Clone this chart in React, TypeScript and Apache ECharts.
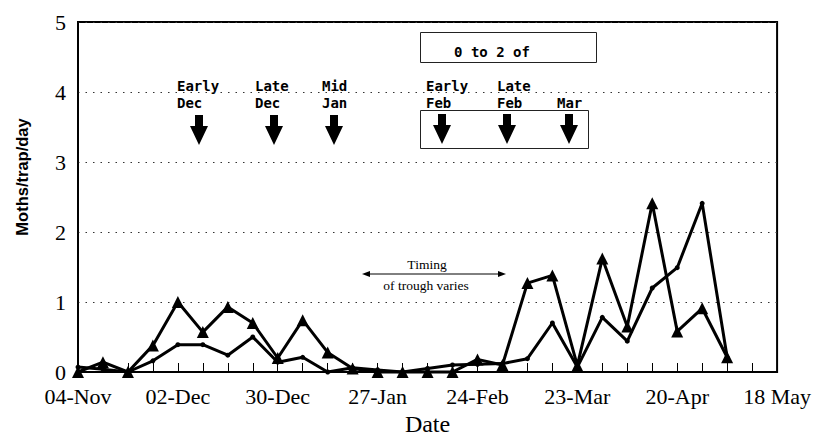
import React, { useEffect, useRef } from "react";
import * as echarts from "echarts";

// Day offsets from 04-Nov for each weekly trap reading
const sampleDays = [0, 7, 14, 21, 28, 35, 42, 49, 56, 63, 70, 77, 84, 91, 98, 105, 112, 119, 126, 133, 140, 147, 154, 161, 168, 175, 182];
// Series with triangle markers
const seriesTriangle = [0.0, 0.14, 0.0, 0.38, 1.0, 0.57, 0.93, 0.7, 0.2, 0.74, 0.28, 0.05, 0.0, 0.0, 0.0, 0.0, 0.18, 0.1, 1.27, 1.38, 0.09, 1.62, 0.65, 2.41, 0.58, 0.91, 0.21];
// Series with small circle markers
const seriesCircle = [0.07, 0.04, 0.0, 0.16, 0.39, 0.39, 0.24, 0.5, 0.14, 0.21, 0.0, 0.06, 0.03, 0.0, 0.05, 0.1, 0.11, 0.12, 0.19, 0.7, 0.07, 0.78, 0.44, 1.2, 1.49, 2.41, 0.21];
// X tick labels every 28 days
const xTickLabels = ["04-Nov", "02-Dec", "30-Dec", "27-Jan", "24-Feb", "23-Mar", "20-Apr", "18 May"];
const yTicks = [0, 1, 2, 3, 4, 5];

const MONO = "bold 14px 'DejaVu Sans Mono', monospace";
const SERIF = "'Liberation Serif', 'Times New Roman', serif";

function downArrow(cx: number, top: number) {
  return {
    type: "polygon",
    shape: {
      points: [
        [cx - 4, top],
        [cx + 4, top],
        [cx + 4, top + 11],
        [cx + 9, top + 11],
        [cx, top + 30],
        [cx - 9, top + 11],
        [cx - 4, top + 11],
      ],
    },
    style: { fill: "#000" },
  };
}

function monoText(x: number, y: number, text: string) {
  return {
    type: "text",
    x,
    y,
    style: { text, font: MONO, fill: "#000", align: "left", verticalAlign: "middle" },
  };
}

export default function App() {
  const ref = useRef<HTMLDivElement>(null);
  useEffect(() => {
    if (!ref.current) return;
    const chart = echarts.init(ref.current, null, { renderer: "svg" });
    const triData = sampleDays.map((d, i) => [d, seriesTriangle[i]]);
    const cirData = sampleDays.map((d, i) => [d, seriesCircle[i]]);
    chart.setOption({
      animation: false,
      backgroundColor: "#fff",
      grid: {
        left: 78,
        right: 32,
        top: 22,
        bottom: 63,
        show: true,
        borderColor: "#000",
        borderWidth: 2,
        backgroundColor: "transparent",
      },
      xAxis: {
        type: "value",
        min: 0,
        max: 196,
        interval: 28,
        name: "Date",
        nameLocation: "middle",
        nameGap: 40,
        nameTextStyle: { fontFamily: SERIF, fontSize: 24, color: "#000" },
        axisLine: { show: true, lineStyle: { color: "#000", width: 2 } },
        axisTick: { show: true, inside: true, length: 9, lineStyle: { color: "#000", width: 1 } },
        minorTick: { show: true, splitNumber: 4, length: 9, lineStyle: { color: "#000", width: 1 } },
        splitLine: { show: false },
        axisLabel: {
          fontFamily: SERIF,
          fontSize: 22,
          color: "#000",
          margin: 13,
          formatter: (v: number) => xTickLabels[Math.round(v / 28)] ?? "",
        },
      },
      yAxis: {
        type: "value",
        min: yTicks[0],
        max: yTicks[yTicks.length - 1],
        interval: 1,
        axisLine: { show: true, lineStyle: { color: "#000", width: 1.5 } },
        axisTick: { show: false },
        splitLine: { show: true, lineStyle: { color: "#333", width: 1, type: [1.5, 6] } },
        axisLabel: { fontFamily: SERIF, fontSize: 22, color: "#000", margin: 12 },
      },
      graphic: [
        {
          type: "text",
          x: 22,
          y: 177,
          rotation: Math.PI / 2,
          style: {
            text: "Moths/trap/day",
            font: "bold 16.5px 'Liberation Sans', Arial, sans-serif",
            fill: "#000",
            align: "center",
            verticalAlign: "middle",
          },
        },
        monoText(177, 86, "Early"),
        monoText(177, 103, "Dec"),
        monoText(255, 86, "Late"),
        monoText(255, 103, "Dec"),
        monoText(322, 86, "Mid"),
        monoText(322, 103, "Jan"),
        monoText(426, 86, "Early"),
        monoText(426, 103, "Feb"),
        monoText(497, 86, "Late"),
        monoText(497, 103, "Feb"),
        monoText(557, 103, "Mar"),
        downArrow(199, 115),
        downArrow(274, 115),
        downArrow(334, 115),
        downArrow(442, 114),
        downArrow(507, 114),
        downArrow(569, 114),
        {
          type: "rect",
          shape: { x: 420.5, y: 32.5, width: 176, height: 30 },
          style: { fill: "#fff", stroke: "#222", lineWidth: 1 },
        },
        {
          type: "text",
          x: 492,
          y: 52,
          style: { text: "0 to 2 of", font: MONO, fill: "#000", align: "center", verticalAlign: "middle" },
        },
        {
          type: "rect",
          shape: { x: 420.5, y: 110.5, width: 168, height: 38 },
          style: { fill: "none", stroke: "#222", lineWidth: 1 },
        },
        {
          type: "line",
          shape: { x1: 366, y1: 274, x2: 502, y2: 274 },
          style: { stroke: "#000", lineWidth: 1 },
        },
        {
          type: "polygon",
          shape: { points: [[362, 274], [370, 271], [370, 277]] },
          style: { fill: "#000" },
        },
        {
          type: "polygon",
          shape: { points: [[506, 274], [498, 271], [498, 277]] },
          style: { fill: "#000" },
        },
        {
          type: "text",
          x: 427,
          y: 264,
          style: { text: "Timing", font: `13.5px ${SERIF}`, fill: "#000", align: "center", verticalAlign: "middle" },
        },
        {
          type: "text",
          x: 426,
          y: 285,
          style: { text: "of trough varies", font: `13.5px ${SERIF}`, fill: "#000", align: "center", verticalAlign: "middle" },
        },
      ],
      series: [
        {
          type: "line",
          data: cirData,
          symbol: "circle",
          symbolSize: 5,
          clip: false,
          lineStyle: { color: "#000", width: 3 },
          itemStyle: { color: "#000" },
          z: 3,
        },
        {
          type: "line",
          data: triData,
          symbol: "triangle",
          symbolSize: 12,
          clip: false,
          lineStyle: { color: "#000", width: 3 },
          itemStyle: { color: "#000" },
          z: 4,
        },
      ],
    });
    return () => chart.dispose();
  }, []);
  return <div ref={ref} style={{ width: 814, height: 441, position: "absolute", left: 0, top: 0 }} />;
}
